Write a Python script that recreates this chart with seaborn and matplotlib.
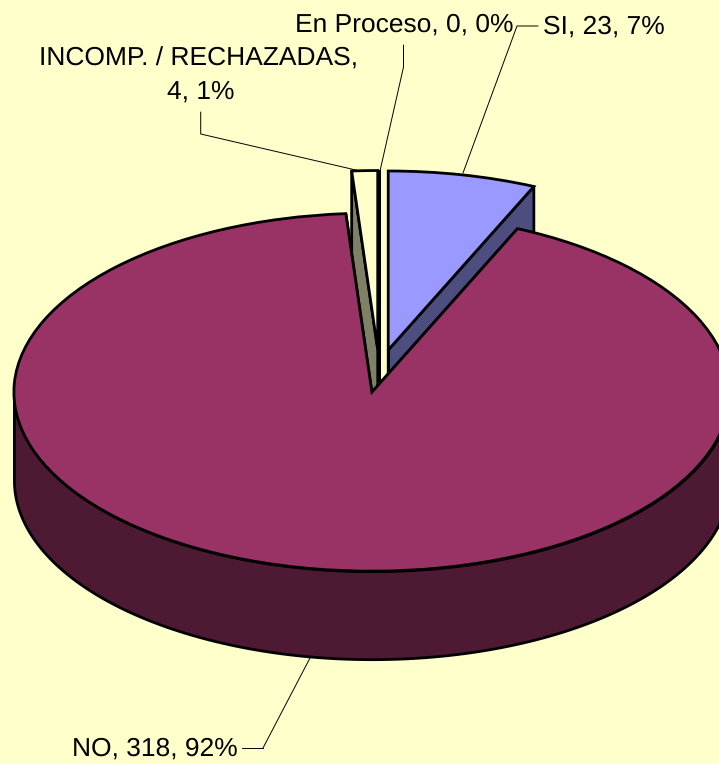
import numpy as np
import matplotlib
matplotlib.use("Agg")
import matplotlib.pyplot as plt
import seaborn as sns

# chart data
categories = ["SI", "NO", "INCOMP. / RECHAZADAS", "En Proceso"]
values = [23, 318, 4, 0]
face_colors = ["#9999FF", "#993366", "#FFFFCC", "#FFFFCC"]
side_colors = ["#4D4D80", "#4D1933", "#808066", "#808066"]
BACKGROUND = "#FFFFCC"

# geometry of the tilted pie, in output pixels
WIDTH, HEIGHT = 719, 764
CENTER_X, CENTER_Y = 379.3, 371
RX, RY, DEPTH_PX = 358, 179, 88
EXPLODE = 0.12
DEPTH = DEPTH_PX / RY
EDGE_LW = 2.0


def px(x, y):
    """Converts a pixel position (origin top left) to pie data coordinates."""
    return (x - CENTER_X) / RX, (CENTER_Y - y) / RY


def draw_sides(ax, wedge, color, z):
    """Draws the walls under one pie wedge, extruded by DEPTH."""
    cx, cy = wedge.center
    for t in (wedge.theta1, wedge.theta2):
        x = cx + wedge.r * np.cos(np.radians(t))
        y = cy + wedge.r * np.sin(np.radians(t))
        ax.fill([cx, x, x, cx], [cy, y, y - DEPTH, cy - DEPTH],
                facecolor=color, edgecolor="black", linewidth=EDGE_LW,
                joinstyle="miter", zorder=z)
    angles = np.radians(np.linspace(wedge.theta1, wedge.theta2, 720))
    angles = angles[np.sin(angles) <= 0]
    if len(angles) > 1:
        xs = cx + wedge.r * np.cos(angles)
        ys = cy + wedge.r * np.sin(angles)
        ax.fill_between(xs, ys, ys - DEPTH, facecolor=color, edgecolor="black",
                        linewidth=EDGE_LW, zorder=z)


def leader(ax, points):
    xs, ys = zip(*[px(x, y) for x, y in points])
    ax.plot(xs, ys, color="black", linewidth=0.7, zorder=6)


sns.set_theme(style="white")
plt.rcParams["font.family"] = ["Liberation Sans", "DejaVu Sans"]
plt.rcParams["text.hinting"] = "none"

fig = plt.figure(figsize=(WIDTH / 100, HEIGHT / 100), dpi=100, facecolor=BACKGROUND)
ax = fig.add_axes([0, 0, 1, 1])

wedges, _ = ax.pie(
    values,
    explode=[EXPLODE] * len(values),
    colors=face_colors,
    startangle=90,
    counterclock=False,
    wedgeprops={"edgecolor": "black", "linewidth": EDGE_LW, "joinstyle": "miter"},
)

# the big slice sits in front of the small ones
for wedge, side, name in zip(wedges, side_colors, categories):
    base = 3 if name == "NO" else 1
    draw_sides(ax, wedge, side, base)
    wedge.set_zorder(base + 1)
wedges[3].set_zorder(2.5)

ax.set_aspect("auto")
ax.set_xlim(px(0, 0)[0], px(WIDTH, 0)[0])
ax.set_ylim(px(0, HEIGHT)[1], px(0, 0)[1])
ax.axis("off")

total = sum(values)
labels = [f"{c}, {v}, {round(v / total * 100)}%" for c, v in zip(categories, values)]

FONT = 19
ax.text(*px(543, 34), labels[0], fontsize=FONT, color="black", ha="left", va="baseline", zorder=7)
ax.text(*px(72, 756), labels[1], fontsize=FONT, color="black", ha="left", va="baseline", zorder=7)
ax.text(*px(39, 66), f"{categories[2]},", fontsize=FONT, color="black", ha="left", va="baseline", zorder=7)
ax.text(*px(200.5, 99), f"{values[2]}, {round(values[2] / total * 100)}%", fontsize=FONT,
        color="black", ha="center", va="baseline", zorder=7)
ax.text(*px(295, 31.5), labels[3], fontsize=FONT, color="black", ha="left", va="baseline", zorder=7)

leader(ax, [(538, 26), (517, 26), (463, 173)])
leader(ax, [(263, 748), (242, 748)])
leader(ax, [(263, 748), (310, 658)])
leader(ax, [(200.7, 112), (200.7, 134), (360, 171)])
leader(ax, [(403.5, 45), (403.5, 67), (380, 171)])

fig.savefig("out.png", dpi=100, facecolor=BACKGROUND)
plt.close(fig)
